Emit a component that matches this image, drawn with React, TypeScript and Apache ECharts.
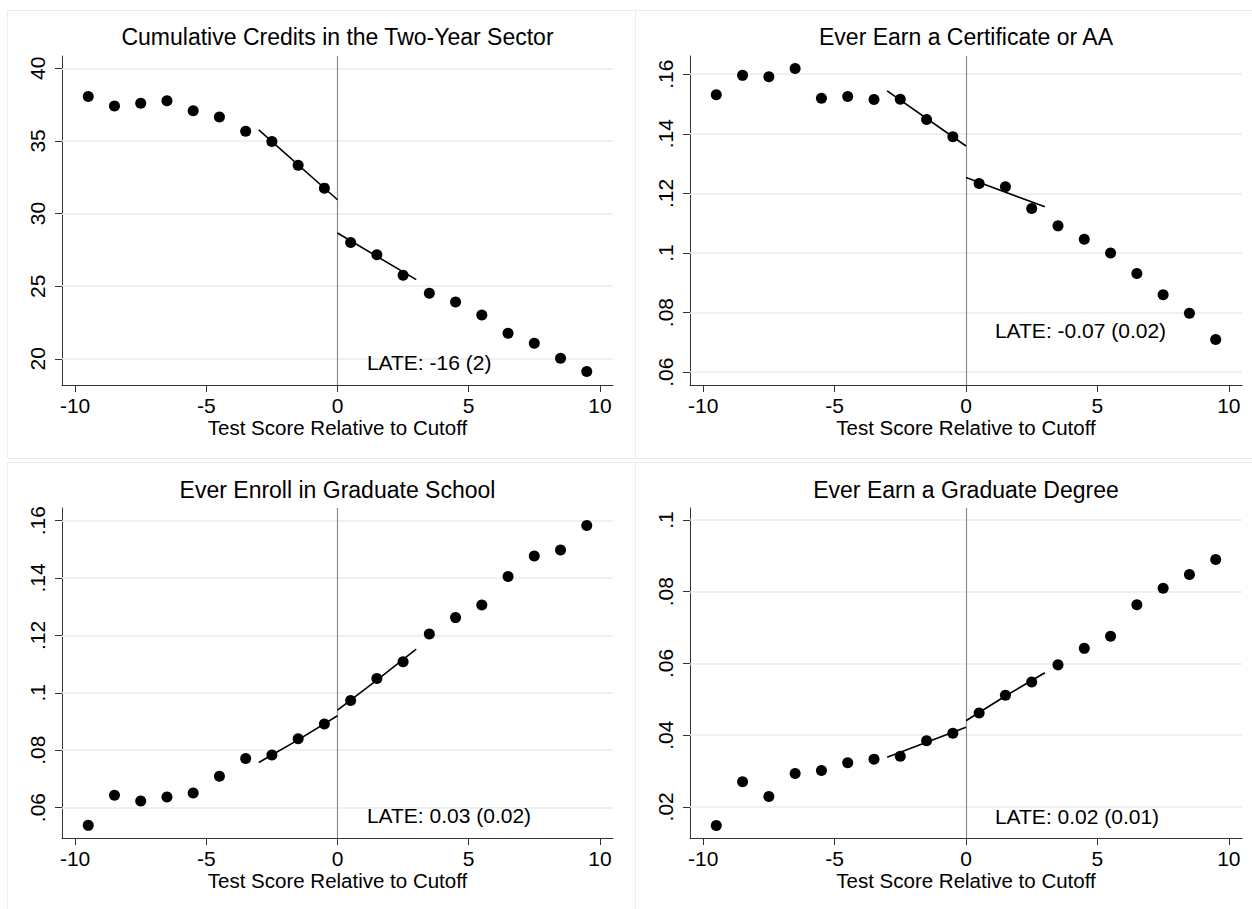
import React, { useEffect, useRef } from "react";
import * as echarts from "echarts";

// ---------- data ----------
const xBins = [-9.5, -8.5, -7.5, -6.5, -5.5, -4.5, -3.5, -2.5, -1.5, -0.5, 0.5, 1.5, 2.5, 3.5, 4.5, 5.5, 6.5, 7.5, 8.5, 9.5];
const xTicks = [-10, -5, 0, 5, 10];
const xTitle = "Test Score Relative to Cutoff";

const panelTitles = [
  "Cumulative Credits in the Two-Year Sector",
  "Ever Earn a Certificate or AA",
  "Ever Enroll in Graduate School",
  "Ever Earn a Graduate Degree",
];

const creditsValues = [38.05, 37.41, 37.59, 37.77, 37.07, 36.65, 35.67, 34.96, 33.33, 31.75, 28.01, 27.17, 25.75, 24.51, 23.92, 23.02, 21.76, 21.07, 20.04, 19.13];
const certificateValues = [0.1531, 0.1596, 0.1591, 0.1619, 0.1519, 0.1525, 0.1515, 0.1516, 0.1448, 0.139, 0.1233, 0.1222, 0.1149, 0.1091, 0.1046, 0.1, 0.0931, 0.086, 0.0798, 0.071];
const enrollValues = [0.0538, 0.0643, 0.0623, 0.0637, 0.0651, 0.0709, 0.0771, 0.0783, 0.084, 0.0891, 0.0973, 0.105, 0.1108, 0.1205, 0.1262, 0.1306, 0.1405, 0.1477, 0.1498, 0.1583];
const degreeValues = [0.0148, 0.027, 0.0229, 0.0293, 0.0301, 0.0323, 0.0333, 0.0341, 0.0384, 0.0405, 0.0462, 0.0511, 0.0548, 0.0596, 0.0642, 0.0676, 0.0764, 0.081, 0.0848, 0.089];

const creditsFitLeft = [[-3, 35.76], [0, 30.95]];
const creditsFitRight = [[0, 28.66], [3, 25.45]];
const certificateFitLeft = [[-3, 0.1544], [0, 0.1359]];
const certificateFitRight = [[0, 0.1253], [3, 0.1155]];
const enrollFitLeft = [[-3, 0.0757], [-1.5, 0.0836], [0, 0.092]];
const enrollFitRight = [[0, 0.094], [1.5, 0.1044], [3, 0.1152]];
const degreeFitLeft = [[-3, 0.0338], [-1.5, 0.038], [0, 0.0422]];
const degreeFitRight = [[0, 0.044], [1.5, 0.0509], [3, 0.0574]];

const lateTexts = ["LATE: -16 (2)", "LATE: -0.07 (0.02)", "LATE: 0.03 (0.02)", "LATE: 0.02 (0.01)"];
const lateAnchors = [[1.12, 19.77], [1.1, 0.0741], [1.12, 0.0573], [1.1, 0.0174]];

const creditsTicks = [20, 25, 30, 35, 40];
const creditsTickLabels = ["20", "25", "30", "35", "40"];
const certificateTicks = [0.06, 0.08, 0.1, 0.12, 0.14, 0.16];
const certificateTickLabels = [".06", ".08", ".1", ".12", ".14", ".16"];
const enrollTicks = [0.06, 0.08, 0.1, 0.12, 0.14, 0.16];
const enrollTickLabels = [".06", ".08", ".1", ".12", ".14", ".16"];
const degreeTicks = [0.02, 0.04, 0.06, 0.08, 0.1];
const degreeTickLabels = [".02", ".04", ".06", ".08", ".1"];

const yRanges = [[18.2, 40.845], [0.0557, 0.1661], [0.0494, 0.1644], [0.0113, 0.10336]];

// ---------- layout ----------
const FONT = "'Liberation Sans', Arial, Helvetica, sans-serif";
const grids = [
  { left: 62, top: 56, width: 551, height: 329 },
  { left: 690, top: 56, width: 552, height: 329 },
  { left: 62, top: 508, width: 551, height: 330 },
  { left: 690, top: 508, width: 552, height: 330 },
];
const titleY = [37, 37, 490, 490];

const panels = [
  { values: creditsValues, fitL: creditsFitLeft, fitR: creditsFitRight, ticks: creditsTicks, labels: creditsTickLabels },
  { values: certificateValues, fitL: certificateFitLeft, fitR: certificateFitRight, ticks: certificateTicks, labels: certificateTickLabels },
  { values: enrollValues, fitL: enrollFitLeft, fitR: enrollFitRight, ticks: enrollTicks, labels: enrollTickLabels },
  { values: degreeValues, fitL: degreeFitLeft, fitR: degreeFitRight, ticks: degreeTicks, labels: degreeTickLabels },
];

function buildOption() {
  const grid: any[] = [];
  const xAxis: any[] = [];
  const yAxis: any[] = [];
  const series: any[] = [];
  const graphic: any[] = [];

  // faint panel borders
  graphic.push(
    { type: "rect", shape: { x: 7.5, y: 10.5, width: 628, height: 448 }, style: { fill: "none", stroke: "#ececec", lineWidth: 1 }, silent: true },
    { type: "rect", shape: { x: 635.5, y: 10.5, width: 630, height: 448 }, style: { fill: "none", stroke: "#ececec", lineWidth: 1 }, silent: true },
    { type: "rect", shape: { x: 7.5, y: 462.5, width: 628, height: 460 }, style: { fill: "none", stroke: "#ececec", lineWidth: 1 }, silent: true },
    { type: "rect", shape: { x: 635.5, y: 462.5, width: 630, height: 460 }, style: { fill: "none", stroke: "#ececec", lineWidth: 1 }, silent: true }
  );

  panels.forEach((p, i) => {
    const g = grids[i];
    grid.push({ ...g, containLabel: false, outerBoundsMode: "none" });
    graphic.push({
      type: "text",
      x: g.left + g.width / 2,
      y: titleY[i],
      style: { text: panelTitles[i], fill: "#000", font: `23px ${FONT}`, textAlign: "center", textVerticalAlign: "middle" },
      silent: true,
    });
    xAxis.push({
      type: "value",
      gridIndex: i,
      min: -10.5,
      max: 10.5,
      name: xTitle,
      nameLocation: "middle",
      nameGap: 31,
      nameTextStyle: { color: "#000", fontSize: 20.5, fontFamily: FONT },
      axisLine: { show: true, onZero: false, lineStyle: { color: "#333", width: 1 } },
      axisTick: { show: true, length: 7, lineStyle: { color: "#333" }, customValues: xTicks },
      axisLabel: { color: "#000", fontSize: 21, fontFamily: FONT, margin: 10, customValues: xTicks, formatter: (v: number) => String(v) },
      splitLine: { show: false },
    });
    yAxis.push({
      type: "value",
      gridIndex: i,
      min: yRanges[i][0],
      max: yRanges[i][1],
      axisLine: { show: true, onZero: false, lineStyle: { color: "#333", width: 1 } },
      axisTick: { show: true, length: 7, lineStyle: { color: "#333" }, customValues: p.ticks },
      axisLabel: {
        color: "#000",
        fontSize: 21,
        fontFamily: FONT,
        rotate: 90,
        margin: 14,
        customValues: p.ticks,
        formatter: (v: number) => {
          const k = p.ticks.findIndex((t) => Math.abs(t - v) < 1e-9);
          return k >= 0 ? p.labels[k] : "";
        },
      },
      splitLine: { show: false },
    });

    series.push({
      type: "line",
      xAxisIndex: i,
      yAxisIndex: i,
      data: p.fitL,
      showSymbol: false,
      symbol: "none",
      z: 2,
      lineStyle: { color: "#000", width: 1.6 },
      markLine: {
        silent: true,
        symbol: ["none", "none"],
        label: { show: false },
        animation: false,
        z: 1,
        lineStyle: { color: "#e5edf0", width: 1.5, type: "solid" },
        data: [
          ...p.ticks.map((t) => ({ yAxis: t })),
          { xAxis: 0, lineStyle: { color: "#8c8c8c", width: 1.2, type: "solid" } },
        ],
      },
    });
    series.push({
      type: "line",
      xAxisIndex: i,
      yAxisIndex: i,
      data: p.fitR,
      showSymbol: false,
      symbol: "none",
      z: 2,
      lineStyle: { color: "#000", width: 1.6 },
    });
    series.push({
      type: "scatter",
      xAxisIndex: i,
      yAxisIndex: i,
      data: xBins.map((x, k) => [x, p.values[k]]),
      symbol: "circle",
      symbolSize: 11,
      z: 3,
      itemStyle: { color: "#000", opacity: 1 },
    });
    series.push({
      type: "scatter",
      xAxisIndex: i,
      yAxisIndex: i,
      data: [lateAnchors[i]],
      symbolSize: 0,
      z: 4,
      itemStyle: { opacity: 1 },
      label: {
        show: true,
        position: "right",
        distance: 0,
        formatter: lateTexts[i],
        color: "#000",
        opacity: 1,
        fontSize: 21,
        fontFamily: FONT,
      },
    });
  });

  return {
    animation: false,
    backgroundColor: "#ffffff",
    grid,
    xAxis,
    yAxis,
    series,
    graphic,
  };
}

export default function App() {
  const ref = useRef<HTMLDivElement>(null);
  useEffect(() => {
    if (!ref.current) return;
    const chart = echarts.init(ref.current, undefined, { renderer: "svg" });
    chart.setOption(buildOption() as any);
    return () => chart.dispose();
  }, []);
  return (
    <div
      ref={ref}
      style={{ position: "absolute", left: 0, top: 0, width: 1252, height: 909, background: "#fff" }}
    />
  );
}
